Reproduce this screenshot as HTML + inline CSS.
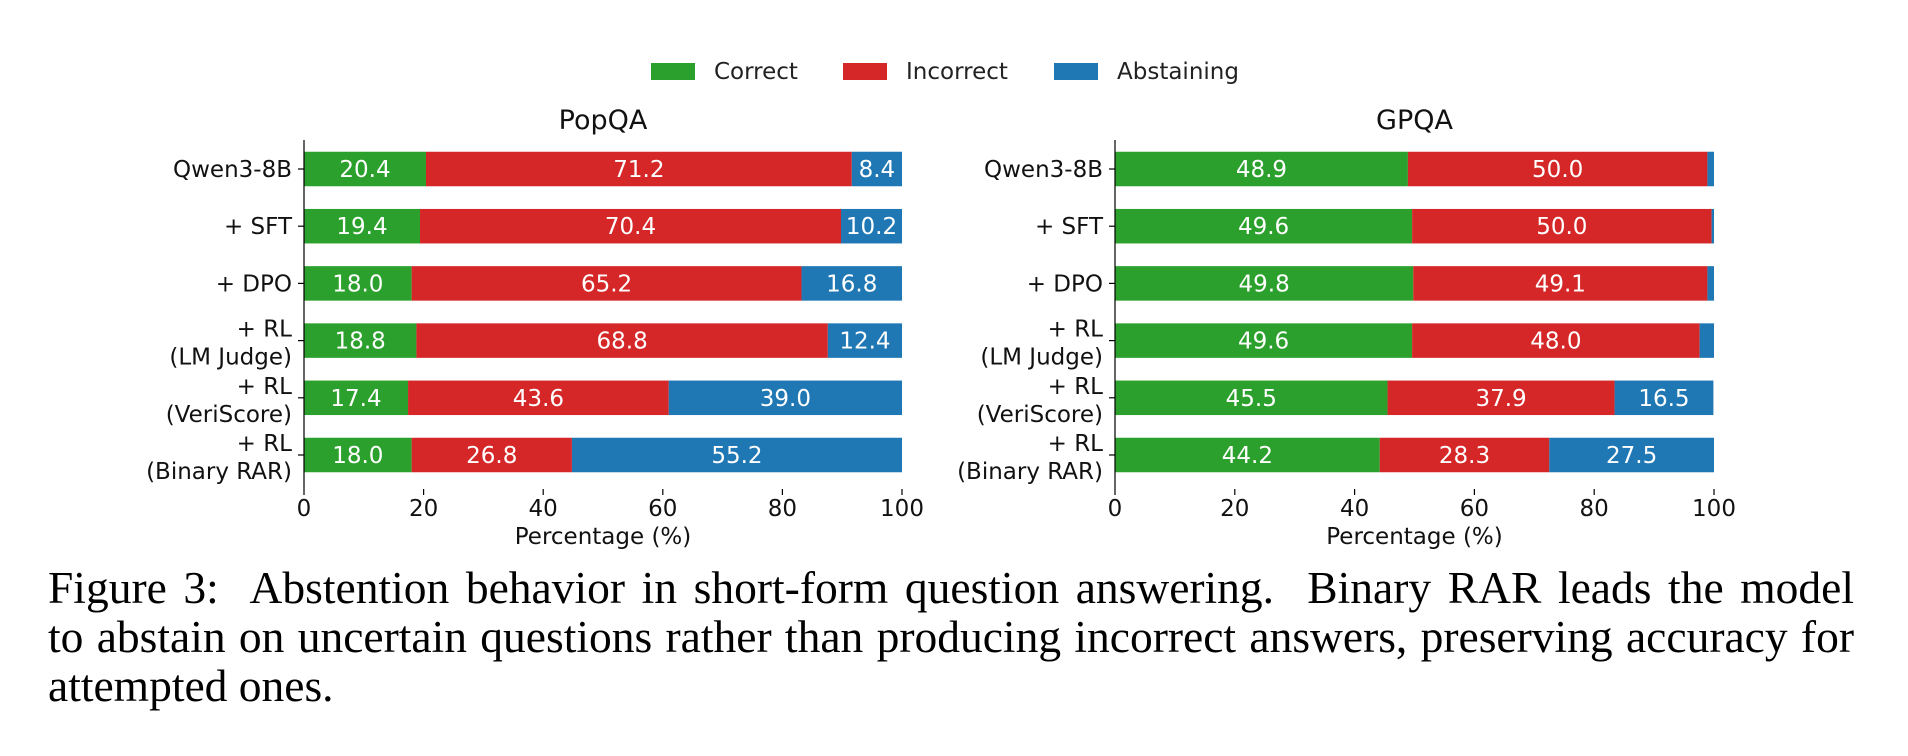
<!DOCTYPE html>
<html><head><meta charset="utf-8">
<style>
html,body{margin:0;padding:0;background:#fff;}
body{width:1908px;height:756px;overflow:hidden;position:relative;}
svg text{font-family:"DejaVu Sans","Liberation Sans",sans-serif;}
#caption{position:absolute;left:48px;top:563px;width:1806px;font-family:"Liberation Serif",serif;font-size:45.5px;line-height:49px;color:#000;}
#caption .j{display:block;text-align:justify;text-align-last:justify;white-space:nowrap;}
#caption .l{display:block;}
</style></head><body>
<svg id="chart" width="1908" height="556" style="position:absolute;left:0;top:0"></svg>
<div id="caption"><span class="j">Figure 3:&nbsp; Abstention behavior in short-form question answering.&nbsp; Binary RAR leads the model</span><span class="j">to abstain on uncertain questions rather than producing incorrect answers, preserving accuracy for</span><span class="l">attempted ones.</span></div>
<script>
const categories = ["Qwen3-8B", "+ SFT", "+ DPO", "+ RL\n(LM Judge)", "+ RL\n(VeriScore)", "+ RL\n(Binary RAR)"];
const popCorrect = [20.4, 19.4, 18.0, 18.8, 17.4, 18.0];
const popIncorrect = [71.2, 70.4, 65.2, 68.8, 43.6, 26.8];
const popAbstain = [8.4, 10.2, 16.8, 12.4, 39.0, 55.2];
const gpCorrect = [48.9, 49.6, 49.8, 49.6, 45.5, 44.2];
const gpIncorrect = [50.0, 50.0, 49.1, 48.0, 37.9, 28.3];
const gpAbstain = [1.1, 0.4, 1.1, 2.4, 16.5, 27.5];
const xTicks = [0, 20, 40, 60, 80, 100];
const seriesNames = ["Correct", "Incorrect", "Abstaining"];
const colors = ["#2ca02c", "#d62728", "#1f77b4"];

const NS = "http://www.w3.org/2000/svg";
const svg = document.getElementById("chart");
function mk(tag, attrs, parent) {
  const e = document.createElementNS(NS, tag);
  for (const k in attrs) e.setAttribute(k, attrs[k]);
  (parent || svg).appendChild(e);
  return e;
}
const legX = [651, 843, 1054];
const legG = mk("g", {});


seriesNames.forEach((n, i) => {
  const r = mk("rect", {x: legX[i], y: 63, width: 44, height: 17, fill: colors[i]}, legG);
  
  
  const t = mk("text", {x: legX[i] + 63, y: 79, "font-size": 23, fill: "#222"}, legG);
  t.textContent = n;
  
  
});

function panel(x0, x1, title, c, inc, ab) {
  const g = mk("g", {});
  
  
  const xs = v => x0 + (x1 - x0) * v / 100;
  const rowY = i => 169 + i * 57.2;
  const bh = 34.5;
  const tt = mk("text", {x: (x0 + x1) / 2, y: 129, "font-size": 27, "text-anchor": "middle", fill: "#111"}, g);
  tt.textContent = title;
  
  
  const sets = [c, inc, ab];
  categories.forEach((cat, i) => {
    let acc = 0;
    sets.forEach((arr, s) => {
      const v = arr[i];
      const r = mk("rect", {x: xs(acc), y: rowY(i) - bh / 2, width: xs(acc + v) - xs(acc), height: bh, fill: colors[s]}, g);
      
      
      if (v > 5) {
        const t = mk("text", {x: xs(acc + v / 2), y: rowY(i) + 8, "font-size": 23, "text-anchor": "middle", fill: "#fff"}, g);
        t.textContent = v.toFixed(1);
        
        
      }
      acc += v;
    });
    mk("line", {x1: x0 - 6, x2: x0, y1: rowY(i), y2: rowY(i), stroke: "#000", "stroke-width": 1.2}, g);
    const lines = cat.split("\n");
    const t = mk("text", {x: x0 - 12, "font-size": 23, "text-anchor": "end", fill: "#111"}, g);
    
    
    lines.forEach((ln, k) => {
      const ts = mk("tspan", {x: x0 - 12, y: lines.length === 1 ? rowY(i) + 8 : rowY(i) - 4 + k * 28}, t);
      ts.textContent = ln;
    });
  });
  const sp = mk("line", {x1: x0, x2: x0, y1: 140, y2: 489, stroke: "#000", "stroke-width": 1.2}, g);
  
  
  xTicks.forEach(v => {
    mk("line", {x1: xs(v), x2: xs(v), y1: 489, y2: 495, stroke: "#000", "stroke-width": 1.2}, g);
    const t = mk("text", {x: xs(v), y: 516, "font-size": 23, "text-anchor": "middle", fill: "#111"}, g);
    t.textContent = v;
    
    
  });
  const xl = mk("text", {x: (x0 + x1) / 2, y: 544, "font-size": 23, "text-anchor": "middle", fill: "#111"}, g);
  xl.textContent = "Percentage (%)";
  
  
}
panel(304, 902, "PopQA", popCorrect, popIncorrect, popAbstain);
panel(1115, 1714, "GPQA", gpCorrect, gpIncorrect, gpAbstain);
</script>
</body></html>
